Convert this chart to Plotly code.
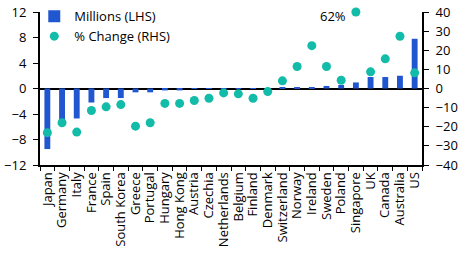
import numpy as np
import plotly.graph_objects as go

countries = ["Japan", "Germany", "Italy", "France", "Spain", "South Korea", "Greece",
             "Portugal", "Hungary", "Hong Kong", "Austria", "Czechia", "Netherlands",
             "Belgium", "Finland", "Denmark", "Switzerland", "Norway", "Ireland", "Sweden",
             "Poland", "Singapore", "UK", "Canada", "Australia", "US"]
millions = [-9.5, -5.3, -4.7, -2.2, -1.5, -1.5, -0.6, -0.6, -0.3, -0.3, -0.05, -0.05, -0.05,
            -0.05, -0.05, -0.05, 0.1, 0.1, 0.1, 0.4, 0.55, 0.95, 1.8, 1.8, 2.0, 7.8]
pct_change = [-23.1, -17.9, -22.8, -11.5, -9.6, -8.4, -19.7, -17.9, -7.8, -7.8, -6.3, -5.1, -2.3,
              -2.8, -5.1, -1.6, 4.0, 11.5, 22.4, 11.5, 4.3, 62, 8.7, 15.5, 27.3, 8.2]
y2_max = 40
pct_shown = np.minimum(np.array(pct_change, dtype=float), y2_max)

BLUE = "#2156d1"
TEAL = "#13bba9"
FONT = "Open Sans"
FS = 13

fig = go.Figure()
fig.add_trace(go.Bar(x=countries, y=millions, name="Millions (LHS)",
                     marker=dict(color=BLUE, line=dict(width=0)), width=0.4))
fig.add_trace(go.Scatter(x=countries, y=pct_shown, name="% Change (RHS)", yaxis="y2",
                         mode="markers", marker=dict(color=TEAL, size=9),
                         cliponaxis=False))

idx = int(np.argmax(pct_change))
fig.add_annotation(x=countries[idx], y=pct_shown[idx], yref="y2",
                   text=f"{pct_change[idx]:.0f}%", showarrow=False,
                   xanchor="right", yanchor="middle", xshift=-8, yshift=-4,
                   font=dict(size=FS, color="black", family=FONT))

fig.update_layout(
    width=460, height=254,
    margin=dict(l=40, r=38, t=12, b=89, autoexpand=False),
    paper_bgcolor="white", plot_bgcolor="white",
    font=dict(family=FONT, size=FS, color="black"),
    showlegend=True,
    legend=dict(x=-0.015, y=1.07, xanchor="left", yanchor="top",
                bgcolor="rgba(0,0,0,0)", font=dict(size=FS), tracegroupgap=0),
    bargap=0.6,
    xaxis=dict(type="category", showline=True, linecolor="black", linewidth=2,
               tickmode="linear", tick0=0, dtick=1,
               ticks="outside", ticklen=4, tickwidth=1, tickcolor="black",
               tickson="boundaries", tickangle=-90, showgrid=False, automargin=False,
               range=[-0.5, len(countries) - 0.5]),
    yaxis=dict(range=[-12, 12], dtick=4, showline=True, linecolor="black", linewidth=2,
               ticks="outside", ticklen=5, tickcolor="black", showgrid=False,
               automargin=False, ticklabelstandoff=4,
               zeroline=True, zerolinecolor="black", zerolinewidth=2),
    yaxis2=dict(range=[-40, 40], dtick=10, overlaying="y", side="right", showline=True,
                linecolor="black", linewidth=2, ticks="outside", ticklen=5,
                tickcolor="black", showgrid=False, zeroline=False, automargin=False,
                ticklabelstandoff=4),
)

fig.write_html("out.html")
